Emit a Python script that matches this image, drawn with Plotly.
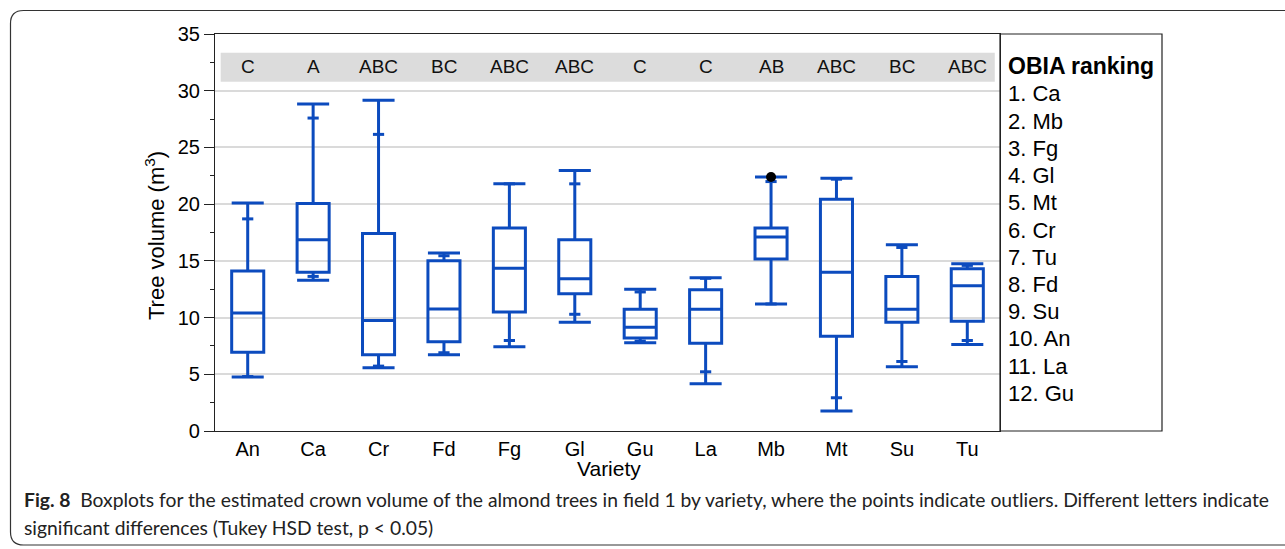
import plotly.graph_objects as go

# ---------------- data ----------------
varieties = ["An", "Ca", "Cr", "Fd", "Fg", "Gl", "Gu", "La", "Mb", "Mt", "Su", "Tu"]
lower_whisker = [4.75, 13.28, 5.57, 6.72, 7.42, 9.59, 7.77, 4.17, 11.20, 1.76, 5.66, 7.63]
q1 = [6.95, 13.99, 6.72, 7.86, 10.50, 12.11, 8.21, 7.74, 15.16, 8.36, 9.59, 9.68]
median = [10.41, 16.86, 9.74, 10.76, 14.34, 13.43, 9.15, 10.73, 17.10, 13.99, 10.73, 12.81]
q3 = [14.10, 20.05, 17.42, 15.01, 17.89, 16.86, 10.73, 12.46, 17.89, 20.44, 13.63, 14.31]
upper_whisker = [20.09, 28.82, 29.17, 15.69, 21.79, 22.96, 12.49, 13.52, 22.40, 22.28, 16.42, 14.75]
low_mark = [4.80, 13.63, 5.72, 6.90, 7.98, 10.29, 7.92, 5.22, 11.20, 2.93, 6.13, 7.98]
high_mark = [18.70, 27.59, 26.15, 15.45, 21.79, 21.79, 12.26, 13.46, 21.99, 22.20, 16.18, 14.60]
outlier_x = ["Mb"]
outlier_y = [22.40]
letters = ["C", "A", "ABC", "BC", "ABC", "ABC", "C", "C", "AB", "ABC", "BC", "ABC"]
ranking = ["Ca", "Mb", "Fg", "Gl", "Mt", "Cr", "Tu", "Fd", "Su", "An", "La", "Gu"]
y_ticks = [0, 5, 10, 15, 20, 25, 30, 35]

# ---------------- style ----------------
W, H = 1285, 549
ML, MR, MT, MB = 215, 285, 34, 118
PW, PH = W - ML - MR, H - MT - MB
BLUE = "#0C4BBE"
FONT = "Liberation Sans, Arial, sans-serif"


def px_x(px):
    return (px - ML) / PW


def px_y(py):
    return (H - MB - py) / PH


fig = go.Figure()

fig.add_trace(go.Box(
    x=varieties,
    q1=q1, median=median, q3=q3,
    lowerfence=lower_whisker, upperfence=upper_whisker,
    boxpoints=False,
    width=0.49,
    whiskerwidth=1,
    line=dict(color=BLUE, width=3),
    fillcolor="rgba(255,255,255,0)",
    showlegend=False,
    hoverinfo="skip",
))

fig.add_trace(go.Scatter(
    x=varieties + varieties, y=low_mark + high_mark,
    mode="markers",
    marker=dict(symbol="line-ew", size=8, line=dict(color=BLUE, width=3)),
    showlegend=False, hoverinfo="skip",
))

fig.add_trace(go.Scatter(
    x=outlier_x, y=outlier_y, mode="markers",
    marker=dict(color="black", size=10),
    showlegend=False, hoverinfo="skip",
))

shapes = []
# grey band for letters
shapes.append(dict(type="rect", xref="x", yref="y", x0=-0.413, x1=11.42, y0=30.78, y1=33.34,
                   fillcolor="#DCDCDC", line=dict(width=0), layer="below"))
# ranking panel box
shapes.append(dict(type="rect", xref="paper", yref="paper", x0=1.0, x1=px_x(1162), y0=0, y1=1,
                   line=dict(color="#222222", width=1.2), fillcolor="rgba(0,0,0,0)"))
# outer rounded frame
L, T, R, B, r = 10.5, 10.5, 1310, 545, 13
path = (f"M {px_x(L)},{px_y(T + r)} "
        f"Q {px_x(L)},{px_y(T)} {px_x(L + r)},{px_y(T)} "
        f"L {px_x(R)},{px_y(T)} L {px_x(R)},{px_y(B)} "
        f"L {px_x(L + r)},{px_y(B)} "
        f"Q {px_x(L)},{px_y(B)} {px_x(L)},{px_y(B - r)} Z")
shapes.append(dict(type="path", xref="paper", yref="paper", path=path,
                   line=dict(color="#333333", width=1.2), fillcolor="rgba(0,0,0,0)"))

annotations = []
for v, letter in zip(varieties, letters):
    annotations.append(dict(x=v, y=32.1, xref="x", yref="y", text=letter, showarrow=False,
                            font=dict(family=FONT, size=19, color="#111111")))

annotations.append(dict(x=px_x(1006), y=px_y(66), xref="paper", yref="paper",
                        text="<b>OBIA ranking</b>", showarrow=False, xanchor="left", yanchor="middle",
                        font=dict(family=FONT, size=23, color="black")))
for i, name in enumerate(ranking):
    annotations.append(dict(x=px_x(1006), y=px_y(94 + 27.2 * i), xref="paper", yref="paper",
                            text=f"{i + 1}. {name}", showarrow=False, xanchor="left", yanchor="middle",
                            font=dict(family=FONT, size=22, color="black")))

# y title
annotations.append(dict(x=px_x(155), y=px_y(236), xref="paper", yref="paper",
                        text="Tree volume (m<sup>3</sup>)", showarrow=False, textangle=-90,
                        xanchor="center", yanchor="middle",
                        font=dict(family=FONT, size=22, color="black")))
# x title
annotations.append(dict(x=px_x(609), y=px_y(469), xref="paper", yref="paper",
                        text="Variety", showarrow=False, xanchor="center", yanchor="middle",
                        font=dict(family=FONT, size=21, color="black")))

CAP_FONT = "Lato, sans-serif"
annotations.append(dict(x=px_x(22), y=px_y(500), xref="paper", yref="paper",
                        text="<b>Fig. 8</b>  Boxplots for the estimated crown volume of the almond trees in field 1 by variety, "
                             "where the points indicate outliers. Different letters indicate",
                        showarrow=False, xanchor="left", yanchor="middle",
                        font=dict(family=CAP_FONT, size=19.3, color="#222222")))
annotations.append(dict(x=px_x(22), y=px_y(527), xref="paper", yref="paper",
                        text="significant differences (Tukey HSD test, p &lt; 0.05)",
                        showarrow=False, xanchor="left", yanchor="middle",
                        font=dict(family=CAP_FONT, size=19.3, color="#222222")))

fig.update_layout(
    width=W, height=H,
    margin=dict(l=ML, r=MR, t=MT, b=MB, pad=0),
    paper_bgcolor="white", plot_bgcolor="white",
    font=dict(family=FONT, size=20, color="black"),
    shapes=shapes, annotations=annotations,
    showlegend=False,
)
fig.update_xaxes(
    type="category", categoryorder="array", categoryarray=varieties,
    range=[-0.5, len(varieties) - 0.5],
    showline=True, linecolor="#222222", linewidth=1.2, mirror=True,
    ticks="", showgrid=False, zeroline=False,
    tickfont=dict(family=FONT, size=20, color="black"),
)
fig.update_yaxes(
    range=[0, 35], tickvals=y_ticks, ticktext=[str(t) for t in y_ticks],
    showline=True, linecolor="#222222", linewidth=1.2, mirror=True,
    ticks="outside", ticklen=10, tickcolor="#222222", tickwidth=1.2,
    minor=dict(ticks="outside", ticklen=4, tickvals=[2.5, 7.5, 12.5, 17.5, 22.5, 27.5, 32.5],
               tickcolor="#222222", showgrid=False),
    showgrid=True, gridcolor="#DADADA", gridwidth=1.5, zeroline=False,
    tickfont=dict(family=FONT, size=20, color="black"),
)

fig.write_html("out.html")
